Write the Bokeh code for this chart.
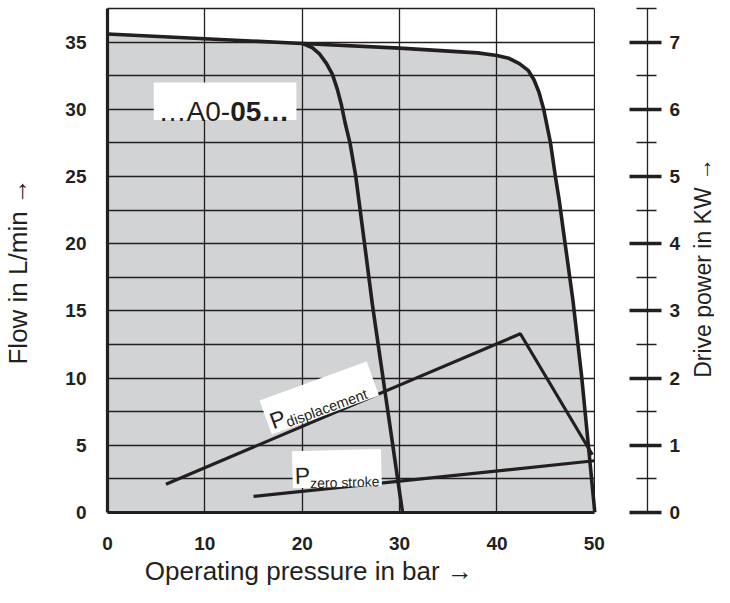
import math
from bokeh.plotting import figure
from bokeh.layouts import row
from bokeh.models import Range1d, LinearAxis, FixedTicker
from bokeh.core.properties import value
from bokeh.embed import file_html
from bokeh.resources import INLINE

# ---------------- data ----------------
PRESSURE_TICKS = [0, 10, 20, 30, 40, 50]
PRESSURE_GRID = [10, 20, 30, 40, 50]
FLOW_TICKS = [0, 5, 10, 15, 20, 25, 30, 35]
FLOW_GRID = [2.5, 5, 7.5, 10, 12.5, 15, 17.5, 20, 22.5, 25, 27.5, 30, 32.5, 35]
POWER_TICKS = [0, 1, 2, 3, 4, 5, 6, 7]
POWER_MINOR = [0.5, 1.5, 2.5, 3.5, 4.5, 5.5, 6.5, 7.5]

# outer characteristic (max displacement, pressure cut-off ~50 bar)
MAX_PRESSURE = [0, 10, 20, 30, 38, 40, 41.2, 42.3, 43.2, 43.8, 44.3, 44.8, 45.5, 46.0,
                46.4, 47.0, 47.8, 48.7, 49.4, 50.05]
MAX_FLOW = [35.6, 35.25, 34.9, 34.55, 34.2, 34.0, 33.8, 33.4, 32.9, 32.2, 31.3, 30.0, 27.5,
            25.0, 23.2, 20.0, 15.8, 10.1, 4.9, 0.0]

# inner characteristic (cut-off ~30 bar)
LOW_PRESSURE = [20, 21.0, 21.8, 22.5, 23.1, 23.6, 24.0, 24.4, 24.9, 25.5, 26.4, 27.2, 28.0,
                28.8, 29.6, 30.3]
LOW_FLOW = [34.9, 34.6, 34.1, 33.4, 32.6, 31.5, 30.4, 29.0, 27.5, 25.0, 20.0, 15.5, 11.5,
            7.5, 3.5, 0.0]

# drive power curves (kW)
P_DISP_PRESSURE = [6.0, 42.4, 49.8]
P_DISP_KW = [0.42, 2.66, 0.86]
P_ZERO_PRESSURE = [15.0, 50.0]
P_ZERO_KW = [0.24, 0.77]

# ---------------- styling ----------------
INK = "#231f20"
GREY = "#d1d3d4"
FONT = "Liberation Sans"
NBSP = "\u00a0"

FRAME_W, FRAME_H = 538, 505
X_END = 55.46
Y_END = 37.5
XS = FRAME_W / X_END
YS = FRAME_H / Y_END
MAIN_W = 687
TITLE_W = 27

p = figure(width=MAIN_W, height=588, x_range=Range1d(0, X_END), y_range=Range1d(0, Y_END),
           output_backend="svg", toolbar_location=None,
           min_border_left=96, min_border_right=40, min_border_top=8, min_border_bottom=75)
p.extra_y_ranges = {"kw": Range1d(0, Y_END / 5)}
p.outline_line_color = None
p.background_fill_color = "white"
p.border_fill_color = "white"

# grid
p.xgrid.ticker = FixedTicker(ticks=PRESSURE_GRID)
p.xgrid.bounds = (0, 50.5)
p.ygrid.ticker = FixedTicker(ticks=FLOW_GRID)
for g in (p.xgrid, p.ygrid):
    g.grid_line_color = INK
    g.grid_line_width = 1.3
    g.grid_line_alpha = 1.0

# bottom axis
xa = p.xaxis[0]
xa.ticker = FixedTicker(ticks=PRESSURE_TICKS)
xa.bounds = (0, 50)
xa.axis_line_width = 3.2
xa.axis_line_color = INK
xa.major_tick_line_color = None
xa.minor_tick_line_color = None
xa.major_label_text_font = FONT
xa.major_label_text_font_style = "bold"
xa.major_label_text_font_size = "19px"
xa.major_label_text_color = INK
xa.major_label_standoff = 18
xa.axis_label = "Operating pressure in bar \u2192" + NBSP * 19
xa.axis_label_text_font = FONT
xa.axis_label_text_font_style = "normal"
xa.axis_label_text_font_size = "26px"
xa.axis_label_text_color = INK
xa.axis_label_standoff = 3

# top border line (0..50 bar)
ta = LinearAxis(ticker=FixedTicker(ticks=[]), bounds=(0, 50))
ta.axis_line_width = 1.3
ta.axis_line_color = INK
ta.major_tick_line_color = None
ta.minor_tick_line_color = None
ta.major_label_text_font_size = "0px"
ta.major_label_standoff = 0
p.add_layout(ta, "above")

# left axis
ya = p.yaxis[0]
ya.ticker = FixedTicker(ticks=FLOW_TICKS)
ya.axis_line_width = 3.2
ya.axis_line_color = INK
ya.major_tick_line_color = None
ya.minor_tick_line_color = None
ya.major_label_text_font = FONT
ya.major_label_text_font_style = "bold"
ya.major_label_text_font_size = "19px"
ya.major_label_text_color = INK
ya.major_label_standoff = 15
ya.axis_label = "Flow in L/min \u2192" + NBSP * 3
ya.axis_label_text_font = FONT
ya.axis_label_text_font_style = "normal"
ya.axis_label_text_font_size = "26px"
ya.axis_label_text_color = INK
ya.axis_label_standoff = 29

# right axis (drive power)
ra = LinearAxis(y_range_name="kw", ticker=FixedTicker(ticks=POWER_TICKS, minor_ticks=POWER_MINOR))
ra.axis_line_width = 1.3
ra.axis_line_color = INK
ra.major_tick_in = 18
ra.major_tick_out = 14
ra.major_tick_line_width = 3.5
ra.major_tick_line_color = INK
ra.minor_tick_in = 11
ra.minor_tick_out = 9
ra.minor_tick_line_width = 1.3
ra.minor_tick_line_color = INK
ra.major_label_text_font = FONT
ra.major_label_text_font_style = "bold"
ra.major_label_text_font_size = "19px"
ra.major_label_text_color = INK
ra.major_label_standoff = 8
ra.axis_label_standoff = 0
p.add_layout(ra, "right")

# grey operating area (drawn beneath the grid)
fill = p.varea(x=MAX_PRESSURE, y1=0, y2=MAX_FLOW, fill_color=GREY)
fill.level = "image"

# white mask to keep grid lines inside 0..50 bar
p.quad(left=[50.07], right=[X_END + 1], bottom=[-1], top=[Y_END + 1], fill_color="white",
       line_color=None)

# characteristic curves
p.line(MAX_PRESSURE, MAX_FLOW, line_color=INK, line_width=3.6, line_join="round")
p.line(LOW_PRESSURE, LOW_FLOW, line_color=INK, line_width=3.6, line_join="round")
p.line(P_DISP_PRESSURE, P_DISP_KW, y_range_name="kw", line_color=INK, line_width=3.2)
p.line(P_ZERO_PRESSURE, P_ZERO_KW, y_range_name="kw", line_color=INK, line_width=3.2)

# "...A0-05..." box
p.quad(left=[4.75], right=[19.4], bottom=[29.2], top=[32.0], fill_color="white", line_color=None)
p.text(x=[12.6], y=[29.84], text=["\u2026A0-"], text_font=value(FONT), text_font_size="28px",
       text_align="right", text_baseline="alphabetic", text_color=INK)
p.text(x=[12.6], y=[29.84], text=["05\u2026"], text_font=value(FONT), text_font_size="28px",
       text_font_style="bold", text_align="left", text_baseline="alphabetic", text_color=INK)


def rotated_label(cx, cy, w, h, deg, pieces):
    a = math.radians(deg)
    p.rect(x=[cx], y=[cy], width=w, height=h, width_units="screen", height_units="screen",
           angle=a, fill_color="white", line_color=None)
    for txt, lx, ly, size in pieces:
        sx = lx * math.cos(a) + ly * math.sin(a)
        sy = -lx * math.sin(a) + ly * math.cos(a)
        p.text(x=[cx + sx / XS], y=[cy - sy / YS], text=[txt], angle=a,
               text_font=value(FONT), text_font_size=size, text_align="left",
               text_baseline="alphabetic", text_color=INK)


rotated_label(21.75, 8.52, 114, 36, 20,
              [("P", -54, 6, "23px"), ("displacement", -39, 12, "14.5px")])
rotated_label(23.56, 3.27, 89, 37, 1.5,
              [("P", -42, 6, "23px"), ("zero stroke", -27, 14, "14px")])

# right-hand axis title (reads bottom to top) in a narrow companion figure
t = figure(width=TITLE_W, height=588, x_range=Range1d(0, TITLE_W), y_range=Range1d(0, Y_END),
           output_backend="svg", toolbar_location=None, x_axis_location=None,
           y_axis_location=None, min_border_left=0, min_border_right=0,
           min_border_top=8, min_border_bottom=75)
t.grid.visible = False
t.outline_line_color = None
t.background_fill_color = None
t.border_fill_color = None
t.text(x=[15], y=[18.2], text=["Drive power in KW \u2192"], angle=math.pi / 2,
       text_font=value(FONT), text_font_size="23px", text_align="center",
       text_baseline="middle", text_color=INK)

open("out.html", "w").write(file_html(row(p, t), INLINE))
